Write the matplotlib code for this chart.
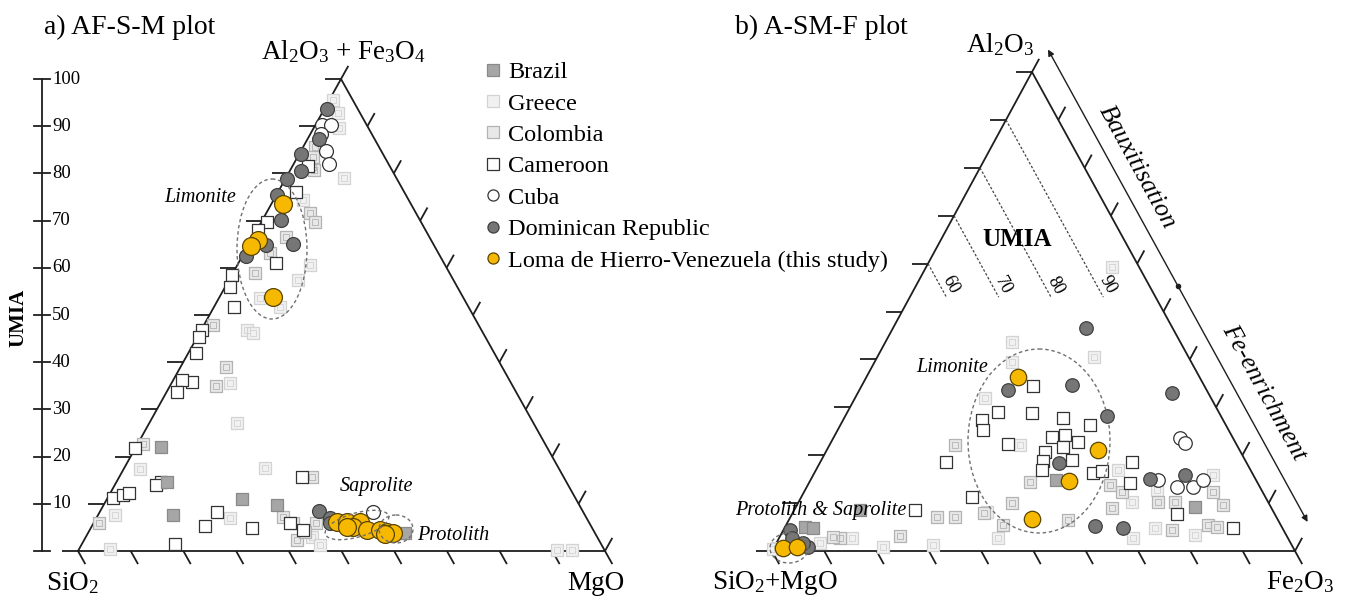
import numpy as np
import matplotlib
matplotlib.use('Agg')
import matplotlib.pyplot as plt
from matplotlib.lines import Line2D
from matplotlib.patches import Ellipse
from matplotlib.collections import LineCollection

plt.rcParams['font.family'] = 'Liberation Serif'
plt.rcParams['mathtext.fontset'] = 'custom'
plt.rcParams['mathtext.rm'] = 'Liberation Serif'
plt.rcParams['mathtext.it'] = 'Liberation Serif:italic'
plt.rcParams['mathtext.bf'] = 'Liberation Serif:bold'

# ---- data: plot a (AF = Al2O3+Fe3O4 %, M = MgO %) ----
brazil_a_af = [22.0, 14.6, 7.6, 11.0, 9.7, 3.8]
brazil_a_m = [4.8, 9.6, 14.2, 25.6, 32.9, 60.2]
greece_a_af = [95.6, 92.8, 89.6, 79.0, 74.4, 57.4, 60.6, 53.6, 51.7, 46.8, 46.2,
               35.6, 27.1, 17.4, 7.6, 0.4, 7.0, 17.6, 3.0, 1.3, 0.2, 0.2]
greece_a_m = [0.7, 3.0, 4.8, 11.0, 5.6, 13.1, 13.8, 7.8, 12.5, 8.7, 10.2,
              11.1, 16.6, 3.1, 3.2, 5.9, 25.4, 26.7, 42.9, 45.3, 90.8, 93.6]
colombia_a_af = [85.6, 81.4, 71.6, 69.7, 66.5, 47.9, 39.0, 35.0, 22.7, 5.9, 7.2,
                 2.3, 5.9, 5.9, 15.7, 58.9, 63.1, 83.5, 80.7, 4.0]
colombia_a_m = [2.3, 4.0, 8.3, 10.2, 6.3, 1.7, 8.6, 8.7, 1.0, 1.0, 35.3,
                40.4, 42.2, 37.8, 36.6, 4.2, 4.9, 2.9, 4.5, 41.1]
cameroon_a_af = [81.6, 76.1, 69.7, 68.0, 61.0, 58.5, 55.9, 51.7, 46.8, 45.3, 41.9,
                 35.8, 36.2, 33.7, 21.8, 11.2, 11.9, 12.3, 14.6, 14.0, 1.5, 5.3,
                 8.3, 4.9, 15.7, 5.9, 4.4]
cameroon_a_m = [2.9, 3.4, 1.1, 0.2, 7.1, 0.0, 0.9, 3.8, 0.2, 0.3, 1.5,
                3.8, 1.7, 2.0, 0.0, 1.0, 2.6, 3.5, 8.5, 7.8, 17.6, 21.5,
                22.3, 30.6, 34.7, 37.3, 40.5]
cuba_a_af = [90.3, 90.3, 88.3, 84.7, 82.0, 8.3]
cuba_a_m = [1.2, 2.9, 2.0, 4.8, 6.7, 51.8]
dominican_a_af = [93.6, 87.3, 84.1, 80.5, 78.8, 75.4, 70.1, 64.8, 62.5, 65.0, 8.5, 7.0, 5.9]
dominican_a_m = [0.5, 2.2, 0.3, 2.1, 0.3, 0.1, 3.5, 3.3, 0.7, 8.3, 41.5, 44.3, 44.9]
loma_a_af = [73.5, 65.9, 64.6, 53.8, 6.1, 6.1, 6.1, 5.1, 4.4, 4.4, 4.0, 3.8, 3.6, 5.1]
loma_a_m = [2.2, 1.3, 0.6, 10.2, 46.1, 48.0, 50.5, 49.6, 52.6, 55.1, 56.6, 57.9, 56.5, 48.5]

# ---- data: plot b (A = Al2O3 %, F = Fe2O3 %) ----
brazil_b_a = [14.8, 9.2, 5.0, 4.8, 8.6]
brazil_b_f = [46.9, 76.3, 3.8, 5.4, 12.5]
greece_b_a = [59.3, 43.6, 40.5, 39.5, 31.9, 22.1, 16.9, 10.2, 8.1, 2.7, 2.7,
              12.7, 15.9, 4.8, 3.3, 1.25, 0.8, 2.7, 1.7, 0.6, 0.4]
greece_b_f = [35.5, 24.2, 41.4, 26.3, 24.9, 36.4, 57.7, 63.8, 37.1, 41.9, 67.7,
              67.3, 76.4, 70.8, 79.2, 30.2, 20.8, 14.0, 8.3, 0.7, 0.0]
colombia_b_a = [22.1, 14.4, 13.8, 9.0, 10.0, 7.1, 5.4, 6.5, 10.2, 10.2, 12.3,
                9.6, 4.4, 5.4, 5.0, 12.3, 3.1, 7.1, 7.9, 2.7, 2.9]
colombia_b_f = [24.0, 42.2, 57.8, 60.5, 40.9, 31.5, 41.5, 53.4, 68.7, 72.0, 78.2,
                81.5, 74.3, 80.7, 82.6, 60.8, 22.9, 28.0, 36.6, 11.6, 10.2]
cameroon_b_a = [34.4, 29.0, 28.8, 27.3, 25.3, 22.3, 27.8, 26.3, 23.8, 24.2, 22.8,
                21.7, 20.7, 18.8, 16.9, 19.0, 16.3, 16.7, 18.6, 14.2, 11.3, 7.7,
                4.8, 18.6, 8.6]
cameroon_b_f = [32.8, 28.8, 35.4, 26.6, 27.8, 34.0, 41.8, 47.7, 41.7, 44.0, 47.2,
                44.9, 41.9, 42.5, 43.2, 47.9, 53.3, 54.8, 59.6, 61.4, 32.6, 73.6,
                85.8, 24.0, 23.1]
cuba_b_a = [23.6, 22.5, 14.8, 13.4, 13.4, 14.8]
cuba_b_f = [66.3, 67.8, 66.4, 70.8, 73.8, 75.0]
dominican_b_a = [46.6, 33.6, 34.7, 28.2, 33.0, 18.4, 15.0, 15.9, 5.2, 4.8, 4.4, 2.7, 0.8, 1.7]
dominican_b_f = [36.9, 28.4, 40.1, 50.0, 60.1, 45.7, 64.8, 71.1, 59.2, 64.7, 1.3, 2.5, 6.5, 5.1]
loma_b_a = [36.3, 21.1, 14.6, 6.7, 0.6, 0.8]
loma_b_f = [29.0, 51.8, 49.5, 46.4, 1.8, 4.4]

umia_ticks = [10, 20, 30, 40, 50, 60, 70, 80, 90, 100]
umia_lines = [60, 70, 80, 90]

# triangle corners in figure pixels: (left, right, top)
TRI_A = [(78, 551), (605, 551), (341, 79)]
TRI_B = [(772, 551), (1295, 551), (1032, 72)]

EDGE = '#1e1e1e'
VFS = 19.5   # vertex label size
LFS = 14.5   # field label size

series = [
    ('Greece', dict(marker='s', c='#f1f1f1', edgecolors='#d3d3d3'), 72, 70),
    ('Colombia', dict(marker='s', c='#e8e8e8', edgecolors='#b3b3b3'), 72, 70),
    ('Cameroon', dict(marker='s', c='white', edgecolors='#333333'), 78, 72),
    ('Brazil', dict(marker='s', c='#a6a6a6', edgecolors='#8a8a8a'), 72, 70),
    ('Cuba', dict(marker='o', c='white', edgecolors='#333333'), 100, 95),
    ('Dominican Republic', dict(marker='o', c='#767676', edgecolors='#404040'), 100, 95),
    ('Loma de Hierro-Venezuela (this study)', dict(marker='o', c='#f6b800', edgecolors='#5a4500'), 165, 140),
]
data_a = {
    'Brazil': (brazil_a_af, brazil_a_m), 'Greece': (greece_a_af, greece_a_m),
    'Colombia': (colombia_a_af, colombia_a_m), 'Cameroon': (cameroon_a_af, cameroon_a_m),
    'Cuba': (cuba_a_af, cuba_a_m), 'Dominican Republic': (dominican_a_af, dominican_a_m),
    'Loma de Hierro-Venezuela (this study)': (loma_a_af, loma_a_m),
}
data_b = {
    'Brazil': (brazil_b_a, brazil_b_f), 'Greece': (greece_b_a, greece_b_f),
    'Colombia': (colombia_b_a, colombia_b_f), 'Cameroon': (cameroon_b_a, cameroon_b_f),
    'Cuba': (cuba_b_a, cuba_b_f), 'Dominican Republic': (dominican_b_a, dominican_b_f),
    'Loma de Hierro-Venezuela (this study)': (loma_b_a, loma_b_f),
}


def tern_xy(tri, top, right):
    (lx, ly), (rx, ry), (tx, ty) = tri
    top = np.asarray(top, float) / 100
    right = np.asarray(right, float) / 100
    return lx + right * (rx - lx) + top * (tx - lx), ly + right * (ry - ly) + top * (ty - ly)


def draw_frame(ax, tri, tick_len=15, left_len=16):
    L, R, T = [np.array(p, float) for p in tri]
    ax.plot([L[0], R[0], T[0], L[0]], [L[1], R[1], T[1], L[1]], color=EDGE, lw=1.3,
            solid_joinstyle='miter', zorder=2)
    up = (T - L) / np.linalg.norm(T - L)
    down = (R - T) / np.linalg.norm(R - T)
    segs = []
    for k in range(11):
        f = k / 10
        p = L + f * (T - L)
        segs.append([p, p + np.array([-left_len, 0])])
        p = T + f * (R - T)
        segs.append([p, p + up * tick_len])
        p = L + f * (R - L)
        segs.append([p, p + down * tick_len])
    ax.add_collection(LineCollection(segs, colors=EDGE, linewidths=1.3, zorder=2))


fig = plt.figure(figsize=(13.56, 6.0), dpi=100)
ax = fig.add_axes([0, 0, 1, 1])
ax.set_xlim(0, 1356)
ax.set_ylim(600, 0)
ax.axis('off')

draw_frame(ax, TRI_A)
draw_frame(ax, TRI_B)

for i, (name, st, s_a, s_b) in enumerate(series):
    for tri, dat, s in ((TRI_A, data_a, s_a), (TRI_B, data_b, s_b)):
        x, y = tern_xy(tri, *dat[name])
        ax.scatter(x, y, s=s, linewidths=0.9, zorder=3 + i, **st)
        if name in ('Greece', 'Colombia'):
            # faint inner square as in the scanned symbols
            ax.scatter(x, y, s=s * 0.25, marker='s', facecolors='none',
                       edgecolors=st['edgecolors'], linewidths=0.6, zorder=3 + i)

# ---- plot a decorations ----
_, ly = tern_xy(TRI_A, 0, 0)
_, ty = tern_xy(TRI_A, 100, 0)
ax.plot([42, 42], [ly, ty], color=EDGE, lw=1.3)
ax.plot([34, 50], [ly, ly], color=EDGE, lw=1.3)
for u in umia_ticks:
    _, yy = tern_xy(TRI_A, u, 0)
    ax.plot([34, 50], [yy, yy], color=EDGE, lw=1.3)
    ax.text(52, yy, str(u), fontsize=13.5, ha='left', va='center')
ax.text(18, 318, 'UMIA', fontsize=15, fontweight='bold', rotation=90, ha='center', va='center')

ax.text(44, 27, 'a) AF-S-M plot', fontsize=20, ha='left', va='center')
ax.text(343, 52, r'Al$_2$O$_3$ + Fe$_3$O$_4$', fontsize=VFS, ha='center', va='center')
ax.text(72, 583, r'SiO$_2$', fontsize=VFS, ha='center', va='center')
ax.text(596, 583, 'MgO', fontsize=VFS, ha='center', va='center')

for (cx, cy, w, h, ang) in [(272, 249, 70, 140, 0), (357, 525, 66, 24, -16), (396, 529, 34, 28, 0)]:
    ax.add_patch(Ellipse((cx, cy), w, h, angle=ang, fill=False, ls=(0, (2.5, 2)),
                         ec='#707070', lw=1.0, zorder=10))
ax.text(200, 198, 'Limonite', fontsize=LFS, style='italic', ha='center', va='center')
ax.text(376, 487, 'Saprolite', fontsize=LFS, style='italic', ha='center', va='center')
ax.text(453, 536, 'Protolith', fontsize=LFS, style='italic', ha='center', va='center')

# ---- plot b decorations ----
ax.text(735, 27, 'b) A-SM-F plot', fontsize=20, ha='left', va='center')
ax.text(1000, 45, r'Al$_2$O$_3$', fontsize=VFS, ha='center', va='center')
ax.text(775, 583, r'SiO$_2$+MgO', fontsize=VFS, ha='center', va='center')
ax.text(1300, 582, r'Fe$_2$O$_3$', fontsize=VFS, ha='center', va='center')
ax.text(1017, 240, 'UMIA', fontsize=18, fontweight='bold', ha='center', va='center')

for u in umia_lines:
    x, y = tern_xy(TRI_B, [u, 53], [0, u - 53])
    ax.plot(x, y, color='#444444', lw=0.9, ls=(0, (2, 1.5)), zorder=2)
    lx, lyy = tern_xy(TRI_B, 55.5, u - 55.5)
    ax.text(lx + 11, lyy, str(u), fontsize=13, rotation=-61.2, ha='center', va='center')

ax.add_patch(Ellipse((1039, 441), 142, 184, fill=False, ls=(0, (2.5, 2)), ec='#707070', lw=1.0, zorder=10))
ax.add_patch(Ellipse((789, 548), 38, 30, fill=False, ls=(0, (2.5, 2)), ec='#707070', lw=1.0, zorder=10))
ax.text(952, 368, 'Limonite', fontsize=LFS, style='italic', ha='center', va='center')
ax.text(821, 511, 'Protolith & Saprolite', fontsize=LFS, style='italic', ha='center', va='center', zorder=12)

top_tip = (1048, 49.5)
bot_tip = (1307.6, 522)
mid = ((top_tip[0] + bot_tip[0]) / 2, (top_tip[1] + bot_tip[1]) / 2)
for tip in (top_tip, bot_tip):
    ax.annotate('', xy=tip, xytext=mid,
                arrowprops=dict(arrowstyle='-|>', color=EDGE, lw=1.0, mutation_scale=9, shrinkA=0, shrinkB=0))
ax.plot(*mid, 'o', color=EDGE, ms=3)
ax.text(1137, 167, 'Bauxitisation', fontsize=18.5, style='italic', rotation=-61.2, ha='center', va='center')
ax.text(1264, 392, 'Fe-enrichment', fontsize=18.5, style='italic', rotation=-61.2, ha='center', va='center')

# ---- legend ----
handles = [Line2D([], [], ls='', marker=st['marker'], markerfacecolor=st['c'],
                  markeredgecolor=st['edgecolors'], markersize=8, markeredgewidth=0.9)
           for name, st, _, _ in series]
order = [3, 0, 1, 2, 4, 5, 6]
ax.legend([handles[i] for i in order], [series[i][0] for i in order], loc='upper left',
          bbox_to_anchor=(486, 61), bbox_transform=ax.transData, frameon=False,
          fontsize=17.5, handlelength=0.6, handletextpad=0.3, labelspacing=0.39,
          borderpad=0, borderaxespad=0)

fig.savefig('out.png', dpi=100)
